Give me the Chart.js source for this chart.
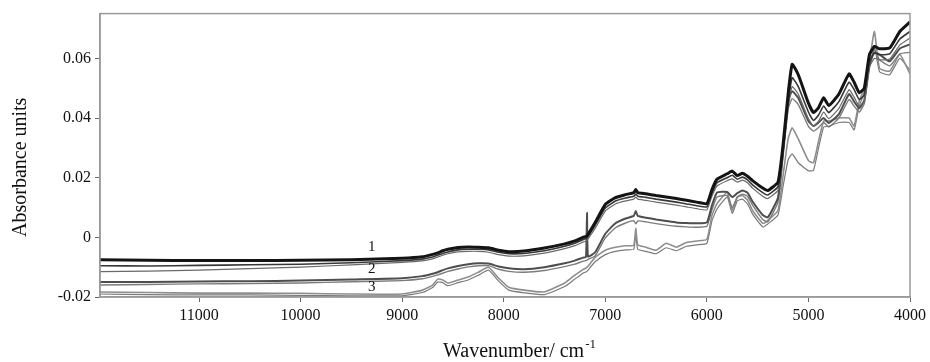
<!DOCTYPE html>
<html>
<head>
<meta charset="utf-8">
<script src="https://cdn.jsdelivr.net/npm/chart.js@4.4.1/dist/chart.umd.min.js"></script>
<style>
  body { margin: 0; background: #fff; }
  canvas { display: block; }
</style>
</head>
<body>
<canvas id="spectra" width="930" height="362"></canvas>
<script>
// wavenumbers (cm-1), shared by all spectra
const wavenumbers = [11975, 11500, 11000, 10500, 10000, 9500, 9000, 8800, 8700, 8650, 8600, 8550, 8450, 8350, 8250, 8150, 8050, 7950, 7800, 7600, 7400, 7300, 7220, 7190, 7180, 7170, 7100, 7000, 6900, 6800, 6720, 6700, 6680, 6600, 6500, 6400, 6300, 6200, 6100, 6000, 5950, 5900, 5800, 5750, 5700, 5650, 5600, 5550, 5450, 5400, 5300, 5250, 5200, 5160, 5100, 5000, 4950, 4900, 4850, 4800, 4700, 4600, 4550, 4500, 4450, 4400, 4350, 4300, 4200, 4100, 4000];

// group 1 (top, dark)
const group1a = [-0.0075, -0.0077, -0.0078, -0.0078, -0.0077, -0.0075, -0.0070, -0.0065, -0.0057, -0.0052, -0.0045, -0.0040, -0.0034, -0.0032, -0.0033, -0.0035, -0.0043, -0.0048, -0.0046, -0.0036, -0.0022, -0.0012, 0.0000, 0.0003, 0.0006, 0.0010, 0.0050, 0.0110, 0.0133, 0.0143, 0.0150, 0.0160, 0.0150, 0.0146, 0.0140, 0.0135, 0.0130, 0.0124, 0.0118, 0.0113, 0.0160, 0.0195, 0.0213, 0.0222, 0.0207, 0.0215, 0.0205, 0.0190, 0.0165, 0.0157, 0.0185, 0.0310, 0.0480, 0.0580, 0.0545, 0.0450, 0.0418, 0.0435, 0.0468, 0.0442, 0.0480, 0.0548, 0.0520, 0.0485, 0.0500, 0.0612, 0.0640, 0.0632, 0.0635, 0.0690, 0.0722];
const group1b = [-0.0095, -0.0096, -0.0094, -0.0092, -0.0090, -0.0085, -0.0078, -0.0073, -0.0066, -0.0060, -0.0054, -0.0049, -0.0042, -0.0040, -0.0040, -0.0042, -0.0050, -0.0055, -0.0054, -0.0045, -0.0030, -0.0020, -0.0008, -0.0004, -0.0001, 0.0003, 0.0040, 0.0098, 0.0122, 0.0132, 0.0138, 0.0145, 0.0138, 0.0134, 0.0128, 0.0123, 0.0118, 0.0112, 0.0106, 0.0102, 0.0148, 0.0183, 0.0200, 0.0208, 0.0195, 0.0202, 0.0193, 0.0176, 0.0150, 0.0142, 0.0170, 0.0290, 0.0450, 0.0535, 0.0505, 0.0420, 0.0392, 0.0410, 0.0440, 0.0418, 0.0455, 0.0520, 0.0495, 0.0462, 0.0478, 0.0590, 0.0618, 0.0612, 0.0615, 0.0665, 0.0690];
const group1c = [-0.0115, -0.0113, -0.0110, -0.0105, -0.0100, -0.0092, -0.0084, -0.0079, -0.0072, -0.0066, -0.0060, -0.0055, -0.0049, -0.0047, -0.0047, -0.0050, -0.0058, -0.0063, -0.0062, -0.0053, -0.0038, -0.0028, -0.0016, -0.0012, -0.0009, -0.0005, 0.0030, 0.0088, 0.0112, 0.0122, 0.0128, 0.0135, 0.0128, 0.0124, 0.0118, 0.0113, 0.0108, 0.0102, 0.0096, 0.0092, 0.0138, 0.0172, 0.0190, 0.0196, 0.0185, 0.0192, 0.0183, 0.0165, 0.0138, 0.0130, 0.0158, 0.0275, 0.0430, 0.0505, 0.0480, 0.0398, 0.0372, 0.0390, 0.0420, 0.0398, 0.0432, 0.0495, 0.0470, 0.0440, 0.0458, 0.0570, 0.0600, 0.0595, 0.0598, 0.0645, 0.0668];

// group 2 (middle)
const group2a = [-0.0150, -0.0150, -0.0148, -0.0147, -0.0145, -0.0141, -0.0137, -0.0130, -0.0122, -0.0117, -0.0110, -0.0104, -0.0096, -0.0090, -0.0087, -0.0088, -0.0098, -0.0104, -0.0107, -0.0100, -0.0087, -0.0078, -0.0068, -0.0066, 0.0082, -0.0064, -0.0050, 0.0012, 0.0047, 0.0063, 0.0072, 0.0088, 0.0072, 0.0066, 0.0060, 0.0055, 0.0050, 0.0048, 0.0047, 0.0050, 0.0107, 0.0150, 0.0152, 0.0135, 0.0148, 0.0157, 0.0150, 0.0120, 0.0075, 0.0067, 0.0133, 0.0290, 0.0457, 0.0490, 0.0467, 0.0390, 0.0373, 0.0385, 0.0400, 0.0383, 0.0413, 0.0480, 0.0455, 0.0433, 0.0460, 0.0580, 0.0620, 0.0613, 0.0590, 0.0633, 0.0647];
const group2b = [-0.0160, -0.0158, -0.0156, -0.0155, -0.0153, -0.0149, -0.0145, -0.0139, -0.0131, -0.0126, -0.0120, -0.0114, -0.0106, -0.0099, -0.0095, -0.0095, -0.0107, -0.0114, -0.0117, -0.0111, -0.0098, -0.0090, -0.0080, -0.0078, -0.0076, -0.0074, -0.0062, -0.0002, 0.0032, 0.0048, 0.0056, 0.0045, 0.0055, 0.0052, 0.0046, 0.0041, 0.0037, 0.0035, 0.0034, 0.0037, 0.0092, 0.0135, 0.0140, 0.0100, 0.0135, 0.0145, 0.0138, 0.0108, 0.0060, 0.0052, 0.0118, 0.0270, 0.0430, 0.0465, 0.0445, 0.0372, 0.0356, 0.0368, 0.0385, 0.0370, 0.0400, 0.0462, 0.0440, 0.0420, 0.0448, 0.0565, 0.0630, 0.0595, 0.0575, 0.0615, 0.0620];

// group 3 (bottom, light)
const group3a = [-0.0183, -0.0185, -0.0187, -0.0187, -0.0188, -0.0190, -0.0190, -0.0177, -0.0160, -0.0140, -0.0143, -0.0153, -0.0143, -0.0133, -0.0117, -0.0100, -0.0137, -0.0167, -0.0177, -0.0183, -0.0153, -0.0127, -0.0108, -0.0103, -0.0100, -0.0097, -0.0067, -0.0043, -0.0033, -0.0028, -0.0027, 0.0030, -0.0025, -0.0033, -0.0043, -0.0020, -0.0033, -0.0017, -0.0012, -0.0007, 0.0073, 0.0113, 0.0150, 0.0090, 0.0135, 0.0140, 0.0125, 0.0090, 0.0047, 0.0057, 0.0090, 0.0207, 0.0330, 0.0367, 0.0330, 0.0257, 0.0250, 0.0323, 0.0390, 0.0390, 0.0400, 0.0400, 0.0373, 0.0457, 0.0500, 0.0590, 0.0690, 0.0567, 0.0557, 0.0613, 0.0547];
const group3b = [-0.0190, -0.0192, -0.0193, -0.0193, -0.0195, -0.0196, -0.0196, -0.0185, -0.0168, -0.0150, -0.0152, -0.0162, -0.0152, -0.0143, -0.0127, -0.0110, -0.0147, -0.0177, -0.0186, -0.0192, -0.0165, -0.0140, -0.0120, -0.0116, -0.0114, -0.0110, -0.0082, -0.0058, -0.0047, -0.0042, -0.0040, 0.0010, -0.0040, -0.0047, -0.0055, -0.0035, -0.0045, -0.0030, -0.0025, -0.0020, 0.0055, 0.0095, 0.0135, 0.0080, 0.0122, 0.0128, 0.0112, 0.0078, 0.0035, 0.0045, 0.0075, 0.0170, 0.0260, 0.0280, 0.0250, 0.0223, 0.0225, 0.0300, 0.0370, 0.0372, 0.0385, 0.0385, 0.0360, 0.0440, 0.0485, 0.0570, 0.0640, 0.0555, 0.0545, 0.0600, 0.0560];

const xTicks = [11000, 10000, 9000, 8000, 7000, 6000, 5000, 4000];
const yTicks = [-0.02, 0, 0.02, 0.04, 0.06];
const yTickLabels = ['-0.02', '0', '0.02', '0.04', '0.06'];

// group numbers written next to the bundles
const groupNames = ['1', '2', '3'];
const groupLabelWn = [9300, 9300, 9300];
const groupLabelVal = [-0.0033, -0.0107, -0.0167];

const FONT = '"Liberation Serif", "Times New Roman", serif';

function toPoints(values) {
  return wavenumbers.map((w, i) => ({ x: w, y: values[i] }));
}

function line(values, color, width) {
  return {
    data: toPoints(values),
    borderColor: color,
    borderWidth: width,
    pointRadius: 0,
    tension: 0.15,
    fill: false
  };
}

const framePlugin = {
  id: 'frame',
  afterDraw(chart) {
    const { ctx, chartArea: a, scales } = chart;
    ctx.save();
    ctx.strokeStyle = '#9a9a9a';
    ctx.lineWidth = 1.5;
    ctx.strokeRect(a.left, a.top, a.right - a.left, a.bottom - a.top);

    // group numbers
    ctx.fillStyle = '#111';
    ctx.font = '15px ' + FONT;
    ctx.textAlign = 'center';
    ctx.textBaseline = 'middle';
    groupNames.forEach((n, i) => {
      ctx.fillText(n, scales.x.getPixelForValue(groupLabelWn[i]), scales.y.getPixelForValue(groupLabelVal[i]));
    });

    // y title
    ctx.font = '20px ' + FONT;
    ctx.save();
    ctx.translate(21, (a.top + a.bottom) / 2 + 12);
    ctx.rotate(-Math.PI / 2);
    ctx.fillText('Absorbance units', 0, 0);
    ctx.restore();

    // x title with superscript
    const main = 'Wavenumber/ cm';
    const sup = '-1';
    ctx.font = '20px ' + FONT;
    const w1 = ctx.measureText(main).width;
    ctx.font = '13px ' + FONT;
    const w2 = ctx.measureText(sup).width;
    const x0 = (a.left + a.right) / 2 + 14 - (w1 + w2) / 2;
    ctx.textAlign = 'left';
    ctx.textBaseline = 'alphabetic';
    ctx.font = '20px ' + FONT;
    ctx.fillText(main, x0, 357);
    ctx.font = '13px ' + FONT;
    ctx.fillText(sup, x0 + w1 + 1, 348);
    ctx.restore();
  }
};

new Chart(document.getElementById('spectra'), {
  type: 'line',
  data: {
    datasets: [
      line(group1a, '#141414', 3),
      line(group1b, '#383838', 1.6),
      line(group1c, '#6a6a6a', 1.2),
      line(group2a, '#4e4e4e', 2),
      line(group2b, '#7c7c7c', 1.4),
      line(group3a, '#8e8e8e', 1.6),
      line(group3b, '#7a7a7a', 1.2)
    ]
  },
  options: {
    responsive: false,
    animation: false,
    layout: { padding: { left: 0, right: 17, top: 12, bottom: 0 } },
    plugins: {
      legend: { display: false },
      tooltip: { enabled: false }
    },
    scales: {
      x: {
        type: 'linear',
        reverse: true,
        min: 4000,
        max: 11975,
        afterFit(scale) { scale.height = 65; },
        afterBuildTicks(scale) { scale.ticks = xTicks.map(v => ({ value: v })); },
        grid: { display: true, drawOnChartArea: false, drawTicks: true, tickLength: 5, color: '#666' },
        border: { display: true, color: '#9a9a9a', width: 1.5 },
        ticks: {
          color: '#111',
          font: { family: FONT, size: 16 },
          padding: 4,
          maxRotation: 0,
          callback: v => String(v)
        }
      },
      y: {
        min: -0.02,
        max: 0.075,
        afterFit(scale) { scale.width = 100; },
        afterBuildTicks(scale) { scale.ticks = yTicks.map(v => ({ value: v })); },
        grid: { display: true, drawOnChartArea: false, drawTicks: true, tickLength: 5, color: '#666' },
        border: { display: true, color: '#9a9a9a', width: 1.5 },
        ticks: {
          color: '#111',
          font: { family: FONT, size: 16 },
          padding: 4,
          callback: (v, i) => yTickLabels[i]
        }
      }
    }
  },
  plugins: [framePlugin]
});
</script>
</body>
</html>
